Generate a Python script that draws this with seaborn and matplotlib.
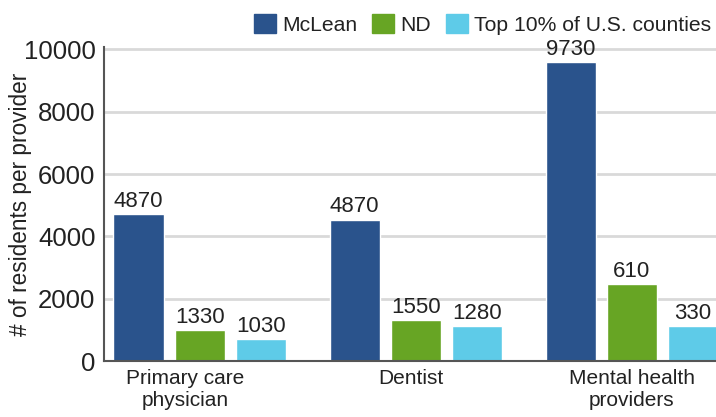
import pandas as pd
import matplotlib.pyplot as plt
import seaborn as sns
from matplotlib.transforms import ScaledTranslation

# values
categories = ["Primary care\nphysician", "Dentist", "Mental health\nproviders"]
series = ["McLean", "ND", "Top 10% of U.S. counties"]
mclean_height = [4720, 4540, 9590]
nd_height = [990, 1310, 2460]
top_height = [700, 1120, 1120]
mclean_label = ["4870", "4870", "9730"]
nd_label = ["1330", "1550", "610"]
top_label = ["1030", "1280", "330"]
colors = ["#2a538c", "#67a524", "#5ecbe8"]

heights = [mclean_height, nd_height, top_height]
labels = [mclean_label, nd_label, top_label]

rows = []
for s, h in zip(series, heights):
    for c, v in zip(categories, h):
        rows.append({"category": c, "series": s, "value": v})
df = pd.DataFrame(rows)

sns.set_style("white")
plt.rcParams["font.family"] = ["Liberation Sans", "DejaVu Sans"]
text_color = "#222222"

fig = plt.figure(figsize=(7.16, 4.17), dpi=100)
ax = fig.add_axes([0.145, 0.134, 0.855, 0.753])

sns.barplot(data=df, x="category", y="value", hue="series", palette=colors,
            width=0.85, gap=0.18, saturation=1, ax=ax, legend=False)

for cont, lab in zip(ax.containers, labels):
    ax.bar_label(cont, labels=lab, padding=1.5, fontsize=16, color=text_color)

ax.set_ylim(0, 10070)
ax.set_xlim(-0.444, 2.389)
ax.set_yticks([0, 2000, 4000, 6000, 8000, 10000])
ax.tick_params(axis="y", labelsize=18.5, length=0, pad=6, labelcolor=text_color)
ax.tick_params(axis="x", labelsize=15, length=0, pad=6, labelcolor=text_color)
ax.set_xlabel("")
ax.set_ylabel("# of residents per provider", fontsize=16.3, color=text_color, labelpad=2)
ax.yaxis.set_label_coords(-0.118, 0.5)

# the category labels sit slightly left of the group centres in the original
shifts = [-15, -5, 0]
for lbl, dx in zip(ax.get_xticklabels(), shifts):
    lbl.set_transform(lbl.get_transform() + ScaledTranslation(dx / 100, 0, fig.dpi_scale_trans))

ax.yaxis.grid(True, color="#d9d9d9", linewidth=2)
ax.set_axisbelow(True)
for side in ["top", "right"]:
    ax.spines[side].set_visible(False)
for side in ["left", "bottom"]:
    ax.spines[side].set_color("#555555")
    ax.spines[side].set_linewidth(1.5)

handles = [plt.Rectangle((0, 0), 1, 1, color=c) for c in colors]
fig.legend(handles, series, loc="upper right", bbox_to_anchor=(1.013, 1.0),
           ncol=3, frameon=False, fontsize=15.2, handlelength=1.05,
           handleheight=1.05, handletextpad=0.3, columnspacing=0.7,
           borderpad=0.15, labelcolor=text_color)

fig.savefig("out.png", dpi=100)
